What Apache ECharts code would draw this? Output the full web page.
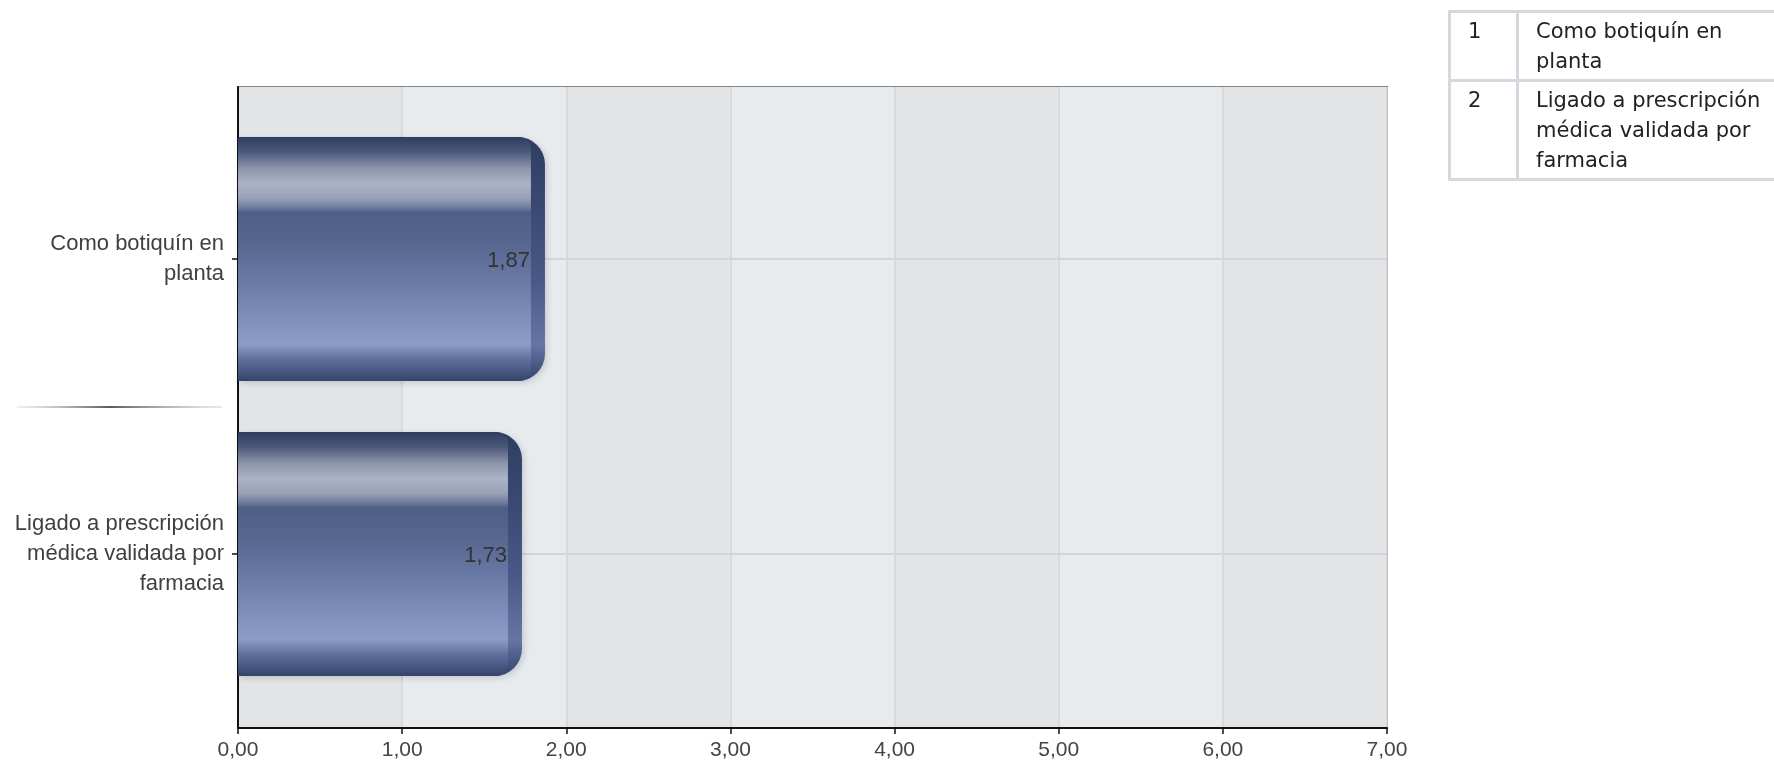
<!DOCTYPE html>
<html>
<head>
<meta charset="utf-8">
<script src="https://cdn.jsdelivr.net/npm/echarts@6/dist/echarts.min.js"></script>
<style>
  html, body { margin: 0; padding: 0; background: #fff; overflow: hidden; }
  #chart { position: absolute; left: 0; top: 0; width: 1774px; height: 768px; }
  #key {
    position: absolute; left: 1448px; top: 10px; width: 370px;
    border-collapse: collapse; border: 3px solid #d3d9df;
    font-family: "DejaVu Sans", Verdana, sans-serif; font-size: 21px; line-height: 30px; color: #222;
  }
  #key td { border: 3px solid #d3d9df; padding: 3px 0 3px 17px; vertical-align: top; }
  #key td.num { width: 48px; padding-left: 17px; }
</style>
</head>
<body>
<div id="chart"></div>
<table id="key"></table>
<script>
// Categories (line breaks as shown on the axis and in the key)
const categories = ['Como botiquín en\nplanta', 'Ligado a prescripción\nmédica validada por\nfarmacia'];
// Mean score per category
const values = [1.87, 1.73];
// Value axis tick labels, 0 to 7
const tickLabels = ['0,00', '1,00', '2,00', '3,00', '4,00', '5,00', '6,00', '7,00'];
// Numbers in the key table
const keyNumbers = ['1', '2'];

const FONT = '"Liberation Sans", Arial, sans-serif';
const BAR_HEIGHT = 244;
const RIM = 14;

// key table
const key = document.getElementById('key');
categories.forEach((c, i) => {
  const tr = document.createElement('tr');
  const n = document.createElement('td');
  n.className = 'num';
  n.textContent = keyNumbers[i];
  const t = document.createElement('td');
  t.innerHTML = c.split('\n').join('<br>');
  tr.appendChild(n); tr.appendChild(t);
  key.appendChild(tr);
});

const fmt = v => v.toFixed(2).replace('.', ',');

const bodyFill = new echarts.graphic.LinearGradient(0, 0, 0, 1, [
  { offset: 0.00, color: '#2e3c5f' },
  { offset: 0.06, color: '#4a5878' },
  { offset: 0.13, color: '#8e96ad' },
  { offset: 0.19, color: '#acb3c7' },
  { offset: 0.25, color: '#9aa2b8' },
  { offset: 0.29, color: '#6e7b9b' },
  { offset: 0.31, color: '#4e5e87' },
  { offset: 0.45, color: '#586891' },
  { offset: 0.60, color: '#6b7ba7' },
  { offset: 0.75, color: '#8090bc' },
  { offset: 0.85, color: '#8b9dc7' },
  { offset: 0.915, color: '#5d6d9a' },
  { offset: 1.00, color: '#34446b' }
]);
const rimFill = new echarts.graphic.LinearGradient(0, 0, 0, 1, [
  { offset: 0.00, color: '#2f3d60' },
  { offset: 0.30, color: '#3a4a74' },
  { offset: 0.60, color: '#4a5a88' },
  { offset: 0.85, color: '#6575a6' },
  { offset: 1.00, color: '#34446b' }
]);

function renderBar(params, api) {
  const v = api.value(0);
  const idx = api.value(1);
  const base = api.coord([0, idx]);
  const end = api.coord([v, idx]);
  const w = end[0] - base[0];
  const y0 = base[1] - BAR_HEIGHT / 2;
  return {
    type: 'group',
    children: [
      { type: 'rect', shape: { x: base[0], y: y0, width: w, height: BAR_HEIGHT, r: [0, 27, 27, 0] },
        style: { fill: rimFill, shadowBlur: 6, shadowColor: 'rgba(0,0,0,0.15)', shadowOffsetX: 2, shadowOffsetY: 2 } },
      { type: 'rect', shape: { x: base[0], y: y0, width: w - RIM, height: BAR_HEIGHT, r: [0, 12, 12, 0] },
        style: { fill: bodyFill } },
      { type: 'text', style: { text: fmt(v), x: end[0] - 15, y: base[1] + 2, align: 'right', verticalAlign: 'middle',
        fontSize: 22, fontFamily: FONT, fill: '#333' } }
    ]
  };
}

const chart = echarts.init(document.getElementById('chart'), null, { renderer: 'canvas' });
chart.setOption({
  animation: false,
  backgroundColor: '#ffffff',
  grid: [
    { left: 238, right: 387, top: 87, bottom: 40, show: true, borderColor: '#858585', borderWidth: 2,
      backgroundColor: 'transparent', containLabel: false, outerBoundsMode: 'none' },
    { left: 238, right: 387, top: 259, height: 295, containLabel: false, outerBoundsMode: 'none' }
  ],
  xAxis: [
    {
      gridIndex: 0, type: 'value', min: 0, max: 7, interval: 1,
      axisLine: { show: true, lineStyle: { color: '#111', width: 2 } },
      axisTick: { show: true, length: 6, lineStyle: { color: '#111', width: 1.5 } },
      axisLabel: { margin: 12, fontSize: 21, fontFamily: FONT, color: '#444', formatter: v => tickLabels[Math.round(v)] },
      splitLine: { show: true, lineStyle: { color: '#d2d4d8', width: 1.5 } },
      splitArea: { show: true, areaStyle: { color: ['#e3e4e6', '#e8ebee'] } }
    },
    { gridIndex: 1, type: 'value', min: 0, max: 7, show: false }
  ],
  yAxis: [
    {
      gridIndex: 0, type: 'value', min: 0, max: 1, z: 2,
      axisLine: { show: true, lineStyle: { color: '#111', width: 2 } },
      axisTick: { show: false }, axisLabel: { show: false }, splitLine: { show: false }
    },
    {
      gridIndex: 1, type: 'category', data: categories, inverse: true, boundaryGap: false, z: 1,
      axisLine: { show: false },
      axisTick: { show: true, length: 6, lineStyle: { color: '#111', width: 1.5 } },
      axisLabel: { margin: 14, fontSize: 22, lineHeight: 30, fontFamily: FONT, color: '#404040', align: 'right' },
      splitLine: { show: true, lineStyle: { color: '#d3d5d8', width: 2 } }
    }
  ],
  series: [{
    type: 'custom',
    xAxisIndex: 1, yAxisIndex: 1,
    data: values.map((v, i) => [v, i]),
    encode: { x: 0, y: 1 },
    clip: false,
    renderItem: renderBar,
    z: 3
  }]
});

// separator between the category labels, half way between the two categories
const yA = chart.convertToPixel({ yAxisIndex: 1 }, categories[0]);
const yB = chart.convertToPixel({ yAxisIndex: 1 }, categories[1]);
const axisX = chart.convertToPixel({ xAxisIndex: 1 }, 0);
const sepY = Math.round((yA + yB) / 2);
chart.setOption({
  graphic: [{
    type: 'line',
    shape: { x1: 17, y1: sepY, x2: axisX - 16, y2: sepY },
    style: {
      lineWidth: 2,
      stroke: new echarts.graphic.LinearGradient(0, 0, 1, 0, [
        { offset: 0, color: 'rgba(190,190,190,0.2)' },
        { offset: 0.45, color: '#5a5a5a' },
        { offset: 1, color: 'rgba(190,190,190,0.3)' }
      ])
    }
  }]
});
</script>
</body>
</html>
